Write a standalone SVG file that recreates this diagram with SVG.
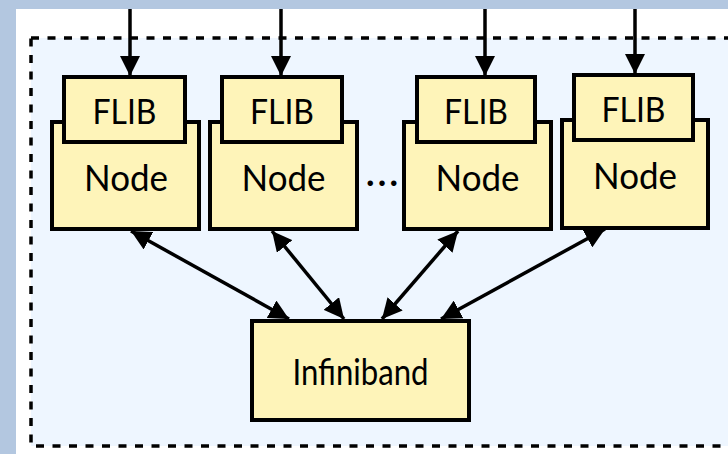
<svg xmlns="http://www.w3.org/2000/svg" width="728" height="454" viewBox="0 0 728 454">
<style>
  .box { fill: #fef4b9; stroke: #000; stroke-width: 4; }
  .lbl { font-family: Lato, "Liberation Sans", sans-serif; fill: #000; text-anchor: middle; }
  .flib { font-size: 35px; }
  .node { font-size: 37px; }
  .conn { stroke: #000; stroke-width: 3.5; fill: none; }
</style>
<defs>
  <marker id="ah" markerUnits="userSpaceOnUse" markerWidth="20" markerHeight="20" viewBox="0 0 18 18" refX="18" refY="9" orient="auto-start-reverse">
    <path d="M0,0 L18,9 L0,18 Z" fill="#000"/>
  </marker>
</defs>
<rect x="0" y="0" width="728" height="454" fill="#b3c7e0"/>
<rect x="16" y="9" width="712" height="445" fill="#ffffff"/>
<rect x="31" y="38" width="710" height="408" fill="#eef6ff" stroke="#000" stroke-width="3.5" stroke-dasharray="8 8.5"/>

<g id="node1">
  <rect class="box" x="52" y="122" width="147" height="107"/>
  <rect class="box" x="64" y="77" width="121" height="65"/>
  <text class="lbl flib" x="124.5" y="124" textLength="64" lengthAdjust="spacingAndGlyphs">FLIB</text>
  <text class="lbl node" x="126" y="191" textLength="84" lengthAdjust="spacingAndGlyphs">Node</text>
</g>
<g id="node2">
  <rect class="box" x="210" y="122" width="147" height="107"/>
  <rect class="box" x="222" y="77" width="120" height="65"/>
  <text class="lbl flib" x="282" y="124" textLength="64" lengthAdjust="spacingAndGlyphs">FLIB</text>
  <text class="lbl node" x="283.5" y="191" textLength="84" lengthAdjust="spacingAndGlyphs">Node</text>
</g>
<g id="ellipsis">
  <text class="lbl" x="382" y="186" font-size="36" font-weight="bold" textLength="32" lengthAdjust="spacing">...</text>
</g>
<g id="node3">
  <rect class="box" x="404" y="122" width="147" height="107"/>
  <rect class="box" x="417" y="77" width="118" height="65"/>
  <text class="lbl flib" x="476" y="124" textLength="64" lengthAdjust="spacingAndGlyphs">FLIB</text>
  <text class="lbl node" x="477.5" y="191" textLength="84" lengthAdjust="spacingAndGlyphs">Node</text>
</g>
<g id="node4">
  <rect class="box" x="562" y="120" width="146" height="108"/>
  <rect class="box" x="574" y="75" width="119" height="65"/>
  <text class="lbl flib" x="633.5" y="122" textLength="64" lengthAdjust="spacingAndGlyphs">FLIB</text>
  <text class="lbl node" x="635" y="189" textLength="84" lengthAdjust="spacingAndGlyphs">Node</text>
</g>
<g id="infiniband">
  <rect class="box" x="252" y="321" width="217" height="99"/>
  <text class="lbl node" x="360.5" y="385" textLength="136" lengthAdjust="spacingAndGlyphs">Infiniband</text>
</g>

<g id="connectors">
  <line class="conn" x1="130" y1="9" x2="130" y2="76" marker-end="url(#ah)"/>
  <line class="conn" x1="281" y1="9" x2="281" y2="76" marker-end="url(#ah)"/>
  <line class="conn" x1="485" y1="9" x2="485" y2="76" marker-end="url(#ah)"/>
  <line class="conn" x1="635" y1="9" x2="635" y2="74" marker-end="url(#ah)"/>
  <line class="conn" x1="131" y1="231" x2="289" y2="319" marker-start="url(#ah)" marker-end="url(#ah)"/>
  <line class="conn" x1="272" y1="231" x2="344" y2="319" marker-start="url(#ah)" marker-end="url(#ah)"/>
  <line class="conn" x1="458" y1="231" x2="382" y2="319" marker-start="url(#ah)" marker-end="url(#ah)"/>
  <line class="conn" x1="605" y1="229" x2="441" y2="319" marker-start="url(#ah)" marker-end="url(#ah)"/>
</g>
</svg>
